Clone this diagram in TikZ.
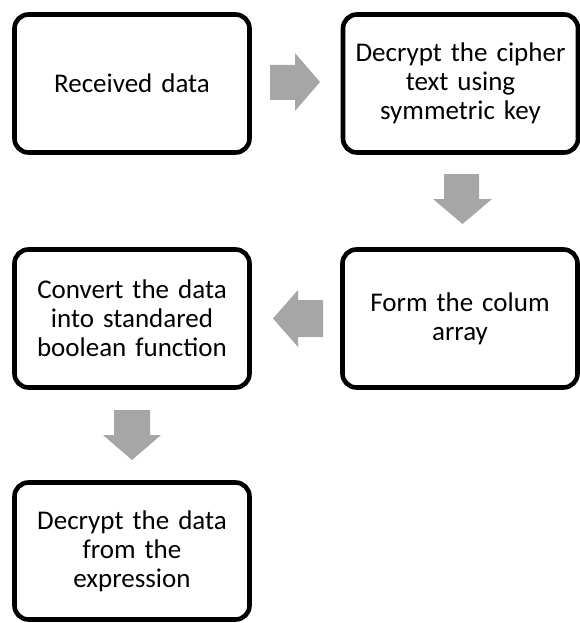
\documentclass[tikz,border=0pt]{standalone}
\usepackage{fontspec}
\setmainfont{Carlito}
\begin{document}
\begin{tikzpicture}[x=1pt,y=-1pt,
  stepbox/.style={draw=black, line width=4.6pt, rounded corners=14pt, fill=white,
    minimum width=235pt, minimum height=138pt, text width=220pt, align=center,
    inner sep=0pt, font=\fontsize{27}{29}\selectfont},
  blockarrow/.style={fill=arrowgray, draw=none}]
\definecolor{arrowgray}{HTML}{A6A6A6}
\useasboundingbox (0,0) rectangle (580,623);
\node[stepbox] (b1) at (132,83.5) {Received data};
\node[stepbox] (b2) at (460.5,83.5) {Decrypt the cipher\\text using\\symmetric key};
\node[stepbox] (b3) at (460,318.5) {Form the colum\\array};
\node[stepbox] (b4) at (132,318.5) {Convert the data\\into standared\\boolean function};
\node[stepbox, minimum height=137pt] (b5) at (132,551) {Decrypt the data\\from the\\expression};
% arrow 1 (right)
\fill[blockarrow] (270,65) -- (295,65) -- (295,53) -- (320,82) -- (295,111) -- (295,100) -- (270,100) -- cycle;
% arrow 2 (down)
\fill[blockarrow] (444,174) -- (479,174) -- (479,199) -- (492,199) -- (462.5,224) -- (433,199) -- (444,199) -- cycle;
% arrow 3 (left)
\fill[blockarrow] (323,300) -- (298,300) -- (298,290) -- (273,318.5) -- (298,347) -- (298,337) -- (323,337) -- cycle;
% arrow 4 (down)
\fill[blockarrow] (114,410) -- (150,410) -- (150,435) -- (161,435) -- (132,460) -- (103,435) -- (114,435) -- cycle;
\end{tikzpicture}
\end{document}
